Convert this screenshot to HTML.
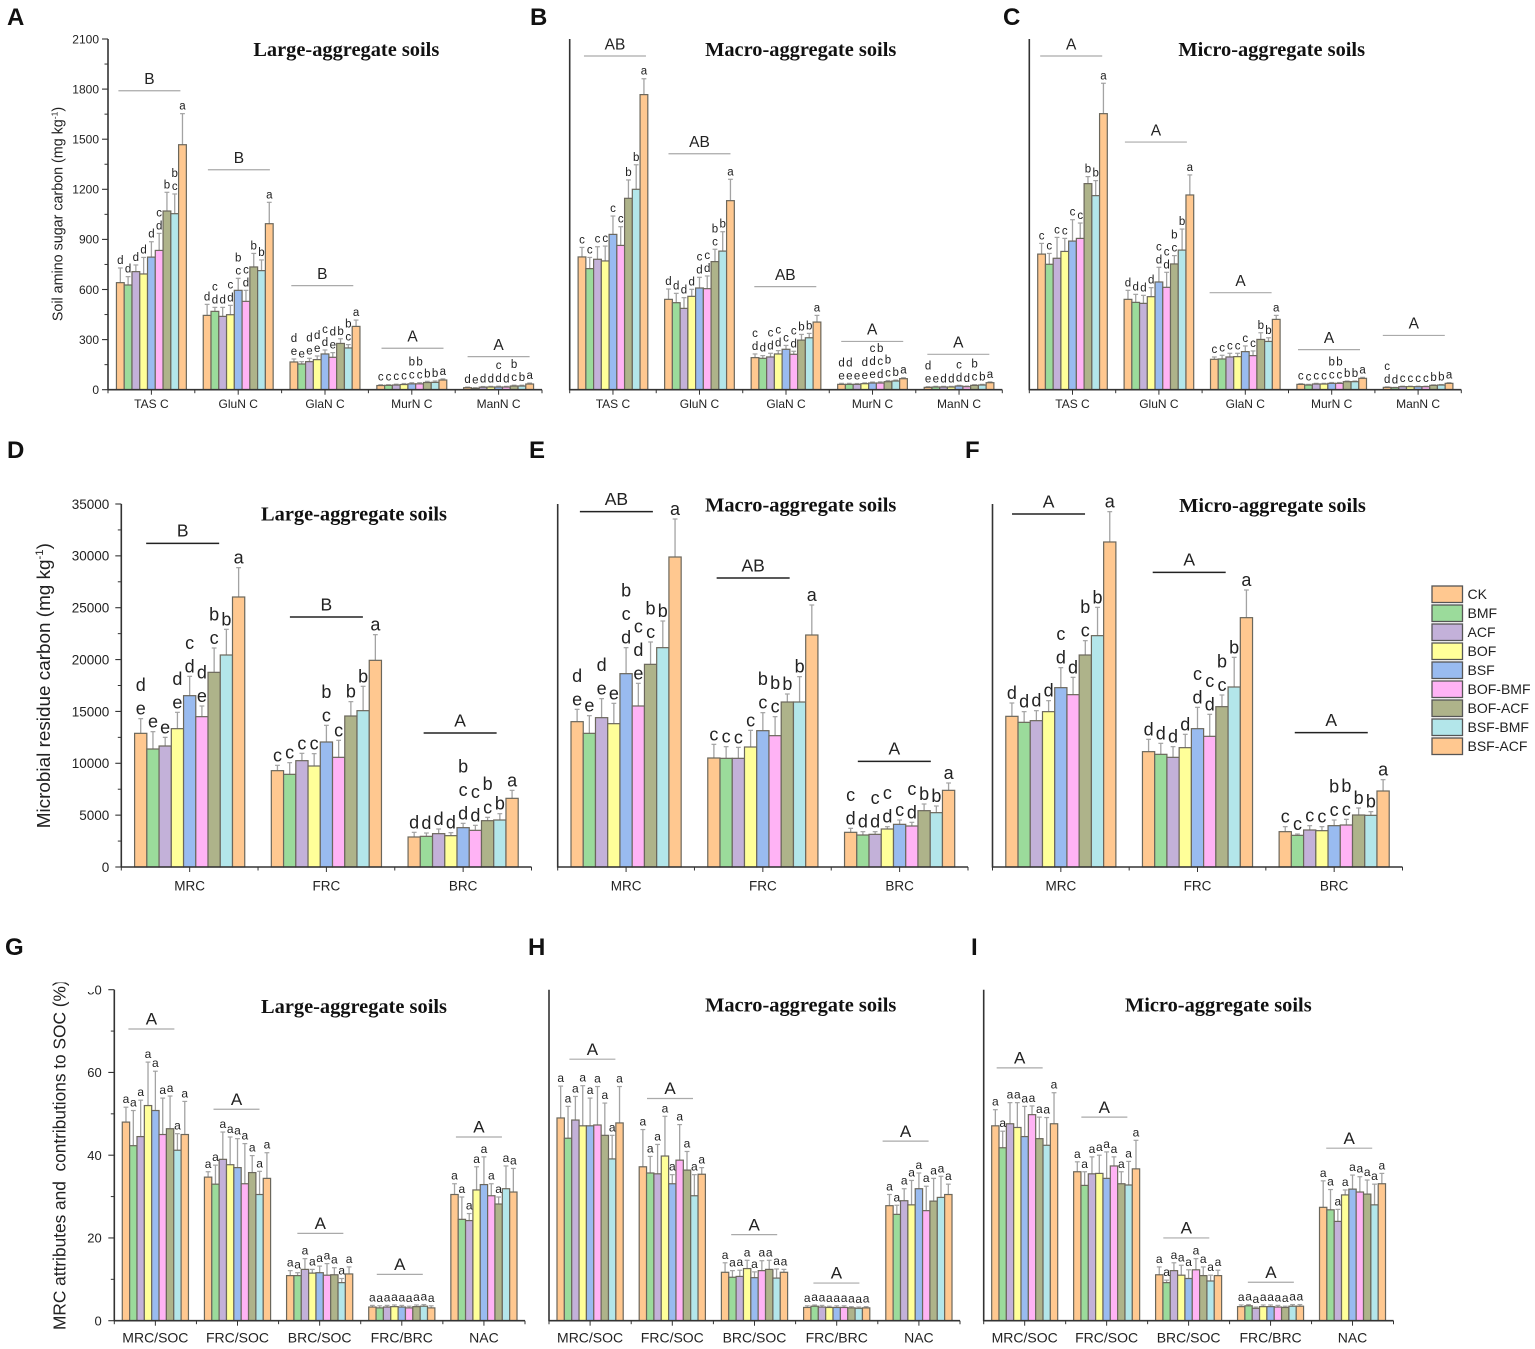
<!DOCTYPE html>
<html lang="en">
<head>
<meta charset="utf-8">
<title>Soil amino sugar and microbial residue carbon by aggregate size</title>
<style>
html,body{margin:0;padding:0;background:#fff;}
svg{display:block;font-family:"Liberation Sans",Arial,sans-serif;fill:#222;}
.pl{font-size:24px;font-weight:700;fill:#111;}
.ttl{font-family:"Liberation Serif","Times New Roman",serif;font-size:20.4px;font-weight:700;text-anchor:middle;fill:#111;}
.yt{text-anchor:middle;white-space:pre;fill:#222;}
.lg{font-size:14px;fill:#222;}
.sw{stroke:#555;stroke-width:1.3;}
</style>
</head>
<body>
<svg id="figure" xmlns="http://www.w3.org/2000/svg" width="1535" height="1349" viewBox="0 0 1535 1349">
  <rect x="0" y="0" width="1535" height="1349" fill="#fff"/>
  <g id="panels"></g>

  <text class="pl" x="7" y="25">A</text>
  <text class="pl" x="530" y="25">B</text>
  <text class="pl" x="1003" y="25">C</text>
  <text class="pl" x="7" y="458">D</text>
  <text class="pl" x="529" y="458">E</text>
  <text class="pl" x="965" y="458">F</text>
  <text class="pl" x="5" y="955">G</text>
  <text class="pl" x="528" y="955">H</text>
  <text class="pl" x="971" y="955">I</text>

  <text class="ttl" x="346.3" y="56">Large-aggregate soils</text>
  <text class="ttl" x="800.7" y="56">Macro-aggregate soils</text>
  <text class="ttl" x="1271.7" y="56">Micro-aggregate soils</text>
  <text class="ttl" x="354" y="520.7">Large-aggregate soils</text>
  <text class="ttl" x="800.7" y="511.7">Macro-aggregate soils</text>
  <text class="ttl" x="1272.5" y="512">Micro-aggregate soils</text>
  <text class="ttl" x="354" y="1013">Large-aggregate soils</text>
  <text class="ttl" x="800.7" y="1011.7">Macro-aggregate soils</text>
  <text class="ttl" x="1218.3" y="1011.7">Micro-aggregate soils</text>

  <text class="yt" font-size="14.3" transform="translate(62.3 214) rotate(-90)">Soil amino sugar carbon (mg kg<tspan font-size="8.6" dy="-5">-1</tspan><tspan dy="5">)</tspan></text>
  <text class="yt" font-size="18.9" transform="translate(50 685.7) rotate(-90)">Microbial residue carbon (mg kg<tspan font-size="11.3" dy="-7">-1</tspan><tspan dy="7">)</tspan></text>
  <text class="yt" font-size="17.3" style="text-anchor:start" transform="translate(65.5 1330) rotate(-90)">MRC attributes and  contributions to SOC (%)</text>
  <rect x="46" y="966" width="26" height="16.5" fill="#fff"/>

  <g>
    <rect class="sw" x="1432" y="586" width="30.5" height="16.5" fill="#ffc890"/>
    <text class="lg" x="1467.5" y="599">CK</text>
    <rect class="sw" x="1432" y="605" width="30.5" height="16.5" fill="#9bdb9b"/>
    <text class="lg" x="1467.5" y="618">BMF</text>
    <rect class="sw" x="1432" y="624" width="30.5" height="16.5" fill="#c3b1d9"/>
    <text class="lg" x="1467.5" y="637">ACF</text>
    <rect class="sw" x="1432" y="643" width="30.5" height="16.5" fill="#ffff99"/>
    <text class="lg" x="1467.5" y="656">BOF</text>
    <rect class="sw" x="1432" y="662" width="30.5" height="16.5" fill="#99bbf0"/>
    <text class="lg" x="1467.5" y="675">BSF</text>
    <rect class="sw" x="1432" y="681" width="30.5" height="16.5" fill="#ffb3f5"/>
    <text class="lg" x="1467.5" y="694">BOF-BMF</text>
    <rect class="sw" x="1432" y="700" width="30.5" height="16.5" fill="#aeb38a"/>
    <text class="lg" x="1467.5" y="713">BOF-ACF</text>
    <rect class="sw" x="1432" y="719" width="30.5" height="16.5" fill="#b3e6ea"/>
    <text class="lg" x="1467.5" y="732">BSF-BMF</text>
    <rect class="sw" x="1432" y="738" width="30.5" height="16.5" fill="#ffc890"/>
    <text class="lg" x="1467.5" y="751">BSF-ACF</text>
  </g>
</svg>

<script>
/* ---------- shared data ---------- */
const sugarCategories = ['TAS C','GluN C','GlaN C','MurN C','ManN C'];
const residueCategories = ['MRC','FRC','BRC'];
const ratioCategories = ['MRC/SOC','FRC/SOC','BRC/SOC','FRC/BRC','NAC'];
const sugarTicks = [0,300,600,900,1200,1500,1800,2100];
const residueTicks = [0,5000,10000,15000,20000,25000,30000,35000];
const ratioTicks = [0,20,40,60,80];
const allA = ['a','a','a','a','a','a','a','a','a'];

/* ---------- panel A ---------- */
const aValues = [
  [641,627,707,693,794,834,1070,1054,1467],
  [445,469,439,449,595,529,735,713,994],
  [166,154,168,180,214,194,277,250,379],
  [25,26,28,31,35,35,43,44,58],
  [12,8,15,16,16,16,22,22,34]];
const aErrorTops = [
  [729,677,747,792,886,936,1182,1172,1653],
  [511,493,493,505,667,595,816,777,1122],
  [184,168,188,202,238,222,305,270,417],
  [30,30,33,37,42,42,50,52,65],
  [16,12,19,20,21,20,27,27,40]];
const aLetters = [
  ['d','d','d','d','d','cd','b','bc','a'],
  ['d','cd','d','cd','bc','cd','b','b','a'],
  ['de','e','de','de','cd','de','b','bc','a'],
  ['c','c','c','c','bc','bc','b','b','a'],
  ['d','e','d','d','cd','d','bc','b','a']];
const aBracketLevels = [1790,1317,623,248,198];
const aBracketLabels = ['B','B','B','A','A'];

/* ---------- panel B ---------- */
const bValues = [
  [795,725,781,771,930,864,1146,1200,1767],
  [541,521,487,559,609,605,767,830,1132],
  [192,188,196,214,242,212,297,311,405],
  [32,32,32,36,40,40,48,52,66],
  [14,16,16,16,22,18,26,28,42]];
const bErrorTops = [
  [852,792,856,860,1040,976,1256,1347,1862],
  [603,577,551,601,673,681,841,946,1260],
  [214,204,218,234,265,230,331,337,445],
  [38,38,37,41,46,47,55,58,72],
  [18,20,20,20,26,22,30,32,47]];
const bLetters = [
  ['c','c','c','c','c','c','b','b','a'],
  ['d','d','d','d','cd','cd','bc','b','a'],
  ['cd','d','cd','cd','c','cd','b','b','a'],
  ['de','de','e','de','cde','bcd','bc','b','a'],
  ['de','e','d','d','cd','d','bc','b','a']];
const bBracketLevels = [1998,1413,617,289,212];
const bBracketLabels = ['AB','AB','AB','A','A'];

/* ---------- panel C ---------- */
const cValues = [
  [812,751,787,828,890,906,1234,1162,1653],
  [541,523,517,557,645,613,753,836,1166],
  [182,184,196,198,228,204,301,289,421],
  [32,28,34,34,38,38,48,48,68],
  [14,12,18,18,18,18,26,28,38]];
const cErrorTops = [
  [876,816,912,906,1018,998,1276,1252,1835],
  [595,571,565,611,733,703,803,962,1286],
  [196,206,218,218,262,232,341,311,445],
  [36,32,38,38,43,43,52,52,74],
  [17,14,21,21,21,21,29,31,42]];
const cLetters = [
  ['c','c','c','c','c','c','b','b','a'],
  ['d','d','d','d','cd','cd','bc','b','a'],
  ['c','c','c','c','c','c','b','b','a'],
  ['c','c','c','c','bc','bc','b','b','a'],
  ['cd','d','c','c','c','c','b','b','a']];
const cBracketLevels = [1998,1483,581,240,325];
const cBracketLabels = ['A','A','A','A','A'];

/* ---------- panel D ---------- */
const dValues = [
  [12888,11377,11667,13338,16520,14495,18770,20441,26033],
  [9288,8935,10253,9738,12053,10574,14559,15074,19927],
  [2893,2957,3214,3021,3792,3535,4467,4531,6621]];
const dErrorTops = [
  [14302,13049,12502,14913,18384,15524,21116,22916,28862],
  [9803,10060,10960,10928,13660,12213,15942,17420,22402],
  [3343,3278,3664,3310,4210,4017,4789,5142,7392]];
const dLetters = [
  ['de','e','e','de','cd','de','bc','b','a'],
  ['c','c','c','c','bc','c','b','b','a'],
  ['d','d','d','d','bcd','cd','bc','b','a']];
const dBracketLevels = [31209,24105,12920];
const dBracketLabels = ['B','B','A'];

/* ---------- panel E ---------- */
const eValues = [
  [14013,12888,14399,13820,18641,15524,19541,21148,29890],
  [10510,10478,10478,11570,13145,12663,15909,15909,22369],
  [3343,3085,3150,3664,4114,3953,5432,5239,7392]];
const eErrorTops = [
  [15202,14591,16231,15781,21148,17709,21695,23719,33554],
  [11828,11602,11538,13177,14881,14495,16681,18352,25262],
  [3728,3407,3407,3889,4532,4307,6075,5882,8100]];
const eLetters = [
  ['de','e','de','e','bcd','cde','bc','b','a'],
  ['c','c','c','c','bc','bc','b','b','a'],
  ['cd','d','cd','cd','c','cd','b','b','a']];
const eBracketLevels = [34262,27866,10189];
const eBracketLabels = ['AB','AB','A'];

/* ---------- panel F ---------- */
const fValues = [
  [14527,13949,14110,14978,17292,16617,20441,22306,31338],
  [11121,10864,10574,11506,13338,12599,15460,17356,24041],
  [3407,3053,3568,3503,3985,4050,5014,4982,7328]];
const fErrorTops = [
  [15813,14978,15074,16038,19220,18288,21823,25038,34262],
  [12310,11924,11603,12792,15395,14720,16585,20217,26709],
  [3889,3182,3985,3889,4532,4596,5689,5335,8421]];
const fLetters = [
  ['d','d','d','d','cd','d','bc','b','a'],
  ['d','d','d','d','cd','cd','bc','b','a'],
  ['c','c','c','c','bc','bc','b','b','a']];
const fBracketLevels = [34037,28412,12953];
const fBracketLabels = ['A','A','A'];

/* ---------- panel G ---------- */
const gValues = [
  [48.0,42.3,44.5,52.0,50.8,45.0,46.4,41.2,45.0],
  [34.7,33.0,39.0,37.7,37.0,33.1,35.8,30.5,34.4],
  [10.9,10.9,12.4,11.5,11.6,11.0,11.1,9.2,11.3],
  [3.3,3.1,3.3,3.4,3.3,3.1,3.4,3.5,3.1],
  [30.5,24.5,24.2,31.6,32.9,30.2,28.2,31.9,31.1]];
const gErrorTops = [
  [51.6,50.8,53.3,62.5,60.3,53.8,54.3,45.2,53.0],
  [36.0,37.6,45.6,44.4,44.0,42.8,39.9,36.1,40.6],
  [12.1,11.6,15.0,12.4,13.2,13.8,12.8,10.2,13.0],
  [3.7,3.6,3.7,3.8,3.7,3.5,3.8,3.9,3.6],
  [33.1,29.9,25.9,37.2,39.6,33.1,29.9,37.4,36.8]];
const gBracketLevels = [70.5,51.1,21.1,11.2,44.4];
const gBracketLabels = ['A','A','A','A','A'];

/* ---------- panel H ---------- */
const hValues = [
  [49.0,44.1,48.5,47.1,47.1,47.3,44.8,39.1,47.8],
  [37.2,35.7,35.5,39.8,33.1,38.8,36.4,30.2,35.4],
  [11.7,10.5,10.7,12.6,10.4,12.1,12.4,10.3,11.7],
  [3.2,3.5,3.3,3.2,3.2,3.2,3.1,3.0,3.1],
  [27.8,25.7,29.0,28.0,31.9,26.6,28.9,29.8,30.5]];
const hErrorTops = [
  [56.7,51.8,54.2,56.8,53.8,56.6,52.6,44.8,56.6],
  [46.2,39.7,42.6,49.4,35.3,47.4,40.9,35.3,37.0],
  [14.0,12.1,12.2,14.6,11.8,14.5,14.6,12.5,12.4],
  [3.6,3.8,3.7,3.5,3.6,3.6,3.4,3.3,3.4],
  [30.5,27.9,31.9,33.9,35.7,32.5,34.4,34.9,33.0]];
const hBracketLevels = [63.2,53.7,20.8,9.1,43.4];
const hBracketLabels = ['A','A','A','A','A'];

/* ---------- panel I ---------- */
const iValues = [
  [47.1,41.8,47.6,46.7,44.5,49.8,44.0,42.4,47.6],
  [36.0,32.7,35.5,35.6,34.4,37.4,33.1,32.8,36.7],
  [11.1,9.2,12.1,11.0,10.2,12.3,10.9,9.6,10.9],
  [3.4,3.6,3.0,3.4,3.4,3.3,3.2,3.5,3.5],
  [27.4,26.8,24.0,30.4,31.8,31.1,30.6,28.0,33.1]];
const iErrorTops = [
  [51.0,45.8,52.7,52.7,51.8,51.9,49.2,49.1,55.1],
  [38.4,36.0,39.6,40.0,40.8,39.6,36.0,38.5,43.6],
  [13.0,9.8,14.0,13.4,12.3,15.0,13.0,11.0,12.2],
  [3.8,3.9,3.3,3.8,3.8,3.7,3.5,3.9,3.9],
  [33.8,31.7,26.9,31.6,35.2,34.8,34.0,33.0,35.6]];
const iBracketLevels = [61.1,49.2,20.0,9.3,41.7];
const iBracketLabels = ['A','A','A','A','A'];

/* ---------- styling and layout (not data) ---------- */
const seriesFill = ['#ffc890','#9bdb9b','#c3b1d9','#ffff99','#99bbf0','#ffb3f5','#aeb38a','#b3e6ea','#ffc890'];
const rowStyle = {
  sugar:  {y0:389.7, yTop:39,    yMax:2100,  ticks:sugarTicks,   tickFont:12,   tickRight:99,   xFont:12,   xBase:408,    letterFont:11.5, letterStep:13,   lift:4, brW:62, brColor:'#aaa', brSW:1.2, brFont:15.5, brLift:6.7},
  residue:{y0:867,   yTop:504,   yMax:35000, ticks:residueTicks, tickFont:13.5, tickRight:109.3,xFont:13.5, xBase:890.7,  letterFont:18,   letterStep:23.5, lift:4, brW:73, brColor:'#222', brSW:1.5, brFont:17.5, brLift:6.7},
  ratio:  {y0:1320.7,yTop:989.7, yMax:80,    ticks:ratioTicks,   tickFont:13,   tickRight:101.7,xFont:14,   xBase:1342.7, letterFont:12,   letterStep:0,    lift:4, brW:46, brColor:'#aaa', brSW:1.2, brFont:17,   brLift:4.3}
};

const panels = [
  {id:'a',row:'sugar',  x0:108,  x1:542,   yAxisLabels:true, categories:sugarCategories,  values:aValues,errorTops:aErrorTops,letters:aLetters,brLevels:aBracketLevels,brLabels:aBracketLabels,brNudge:[-2,0.7,-2.7,0.7,0]},
  {id:'b',row:'sugar',  x0:569.7,x1:1002.3,yAxisLabels:false,categories:sugarCategories,  values:bValues,errorTops:bErrorTops,letters:bLetters,brLevels:bBracketLevels,brLabels:bBracketLabels,brNudge:[2,0,-0.7,-0.3,-0.7]},
  {id:'c',row:'sugar',  x0:1029.3,x1:1461.3,yAxisLabels:false,categories:sugarCategories, values:cValues,errorTops:cErrorTops,letters:cLetters,brLevels:cBracketLevels,brLabels:cBracketLabels,brNudge:[-1.3,-3,-4.7,-2.7,-4.3]},
  {id:'d',row:'residue',x0:121.3,x1:531.5, yAxisLabels:true, categories:residueCategories,values:dValues,errorTops:dErrorTops,letters:dLetters,brLevels:dBracketLevels,brLabels:dBracketLabels,brNudge:[-7,0,-3]},
  {id:'e',row:'residue',x0:557.7,x1:968,   yAxisLabels:false,categories:residueCategories,values:eValues,errorTops:eErrorTops,letters:eLetters,brLevels:eBracketLevels,brLabels:eBracketLabels,brNudge:[-9.7,-9.7,-5.3]},
  {id:'f',row:'residue',x0:992.5,x1:1402.5,yAxisLabels:false,categories:residueCategories,values:fValues,errorTops:fErrorTops,letters:fLetters,brLevels:fBracketLevels,brLabels:fBracketLabels,brNudge:[-12.3,-8.3,-2.9]},
  {id:'g',row:'ratio',  x0:114.3,x1:525,   yAxisLabels:true, categories:ratioCategories,  values:gValues,errorTops:gErrorTops,letters:[allA,allA,allA,allA,allA],brLevels:gBracketLevels,brLabels:gBracketLabels,brNudge:[-4,-1,0.7,-2,-5]},
  {id:'h',row:'ratio',  x0:549,  x1:960,   yAxisLabels:false,categories:ratioCategories,  values:hValues,errorTops:hErrorTops,letters:[allA,allA,allA,allA,allA],brLevels:hBracketLevels,brLabels:hBracketLabels,brNudge:[2.3,-2.3,-0.3,-0.3,-13.3]},
  {id:'i',row:'ratio',  x0:983.7,x1:1393.5,yAxisLabels:false,categories:ratioCategories,  values:iValues,errorTops:iErrorTops,letters:[allA,allA,allA,allA,allA],brLevels:iBracketLevels,brLabels:iBracketLabels,brNudge:[-5,-2.3,-2.3,0.3,-3.3]}
];

const NS = 'http://www.w3.org/2000/svg';
function mk(tag, attrs, parent, txt) {
  const el = document.createElementNS(NS, tag);
  for (const k in attrs) el.setAttribute(k, attrs[k]);
  if (txt !== undefined) el.textContent = txt;
  parent.appendChild(el);
  return el;
}

function drawPanel(p, root) {
  const s = rowStyle[p.row];
  const yScale = v => s.y0 - v / s.yMax * (s.y0 - s.yTop);
  const groupW = (p.x1 - p.x0) / p.categories.length;
  const barW = groupW * 0.0895;
  const pad = (groupW - barW * 9) / 2;
  const barX = (g, i) => p.x0 + g * groupW + pad + i * barW;
  const groupMid = g => p.x0 + (g + 0.5) * groupW;

  const panel = mk('g', {}, root);
  
  

  p.values.forEach((series, g) => {
    const group = mk('g', {}, panel);
    
    

    series.forEach((v, i) => {
      const cx = barX(g, i) + barW / 2;
      const top = yScale(p.errorTops[g][i]);
      const stem = mk('line', {x1:cx, x2:cx, y1:yScale(v), y2:top, stroke:'#a3a3a3', 'stroke-width':1.3}, group);
      
      
      const cap = mk('line', {x1:cx - 2.4, x2:cx + 2.4, y1:top, y2:top, stroke:'#a3a3a3', 'stroke-width':1.2}, group);
      
      
    });

    series.forEach((v, i) => {
      const bar = mk('rect', {x:barX(g, i), y:yScale(v), width:barW, height:s.y0 - yScale(v), fill:seriesFill[i], stroke:'#6b675c', 'stroke-width':1.2}, group);
      
      
    });

    series.forEach((v, i) => {
      const cx = barX(g, i) + barW / 2;
      const base = yScale(p.errorTops[g][i]) - s.lift;
      const chars = p.letters[g][i].split('').reverse();
      chars.forEach((ch, n) => {
        const t = mk('text', {x:cx, y:base - n * s.letterStep, 'font-size':s.letterFont, 'text-anchor':'middle', fill:'#222'}, group, ch);
        
        
      });
    });

    const bx = groupMid(g) + p.brNudge[g];
    const by = yScale(p.brLevels[g]);
    const bracket = mk('line', {x1:bx - s.brW / 2, x2:bx + s.brW / 2, y1:by, y2:by, stroke:s.brColor, 'stroke-width':s.brSW}, group);
    
    
    const bLabel = mk('text', {x:bx, y:by - s.brLift, 'font-size':s.brFont, 'text-anchor':'middle', fill:'#222'}, group, p.brLabels[g]);
    
    
  });

  const yAxis = mk('line', {x1:p.x0, x2:p.x0, y1:s.yTop, y2:s.y0 + 0.6, stroke:'#333', 'stroke-width':1.6}, panel);
  
  
  const xAxis = mk('line', {x1:p.x0, x2:p.x1, y1:s.y0, y2:s.y0, stroke:'#333', 'stroke-width':1.6}, panel);
  
  

  p.categories.forEach((c, g) => {
    const edge = mk('line', {x1:p.x0 + g * groupW, x2:p.x0 + g * groupW, y1:s.y0, y2:s.y0 + 3.5, stroke:'#333', 'stroke-width':1}, panel);
    
    
    const mid = mk('line', {x1:groupMid(g), x2:groupMid(g), y1:s.y0, y2:s.y0 + 5, stroke:'#333', 'stroke-width':1}, panel);
    
    
    const label = mk('text', {x:groupMid(g), y:s.xBase, 'font-size':s.xFont, 'text-anchor':'middle', fill:'#222'}, panel, c);
    
    
  });
  const lastEdge = mk('line', {x1:p.x1, x2:p.x1, y1:s.y0, y2:s.y0 + 3.5, stroke:'#333', 'stroke-width':1}, panel);
  
  

  if (p.yAxisLabels) {
    s.ticks.forEach((tv, n) => {
      const ty = yScale(tv);
      const major = mk('line', {x1:p.x0 - 6, x2:p.x0, y1:ty, y2:ty, stroke:'#333', 'stroke-width':1.1}, panel);
      
      
      const lab = mk('text', {x:s.tickRight, y:ty + s.tickFont * 0.36, 'font-size':s.tickFont, 'text-anchor':'end', fill:'#222'}, panel, tv);
      
      
      if (n < s.ticks.length - 1) {
        const my = yScale((tv + s.ticks[n + 1]) / 2);
        const minor = mk('line', {x1:p.x0 - 3.5, x2:p.x0, y1:my, y2:my, stroke:'#333', 'stroke-width':1}, panel);
        
        
      }
    });
  }
}

const root = document.getElementById('panels');
panels.forEach(p => drawPanel(p, root));

const tickMask = mk('rect', {x:86, y:983, width:9, height:9, fill:'#fff'}, document.getElementById('figure'));


</script>
</body>
</html>
